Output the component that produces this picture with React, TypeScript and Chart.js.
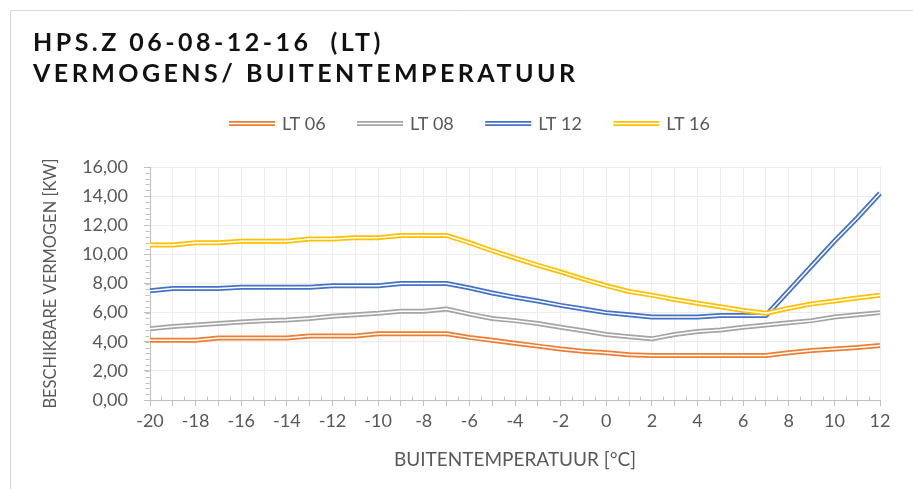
import React, { useEffect, useRef } from 'react';
import { Chart, registerables } from 'chart.js';

Chart.register(...registerables);

const temperatures = [-20, -19, -18, -17, -16, -15, -14, -13, -12, -11, -10, -9, -8, -7, -6, -5, -4, -3, -2, -1, 0, 1, 2, 3, 4, 5, 6, 7, 8, 9, 10, 11, 12];

const lt06 = [4.1, 4.1, 4.1, 4.25, 4.25, 4.25, 4.25, 4.4, 4.4, 4.4, 4.55, 4.55, 4.55, 4.55, 4.3, 4.1, 3.9, 3.7, 3.5, 3.35, 3.25, 3.1, 3.05, 3.05, 3.05, 3.05, 3.05, 3.05, 3.25, 3.4, 3.5, 3.6, 3.75];
const lt08 = [4.9, 5.05, 5.15, 5.25, 5.35, 5.45, 5.5, 5.6, 5.75, 5.85, 5.95, 6.1, 6.1, 6.25, 5.9, 5.6, 5.45, 5.25, 5.0, 4.75, 4.5, 4.35, 4.2, 4.5, 4.7, 4.8, 5.0, 5.15, 5.3, 5.45, 5.7, 5.85, 6.0];
const lt12 = [7.5, 7.65, 7.65, 7.65, 7.75, 7.75, 7.75, 7.75, 7.85, 7.85, 7.85, 8.0, 8.0, 8.0, 7.7, 7.35, 7.05, 6.8, 6.5, 6.25, 6.0, 5.85, 5.7, 5.7, 5.7, 5.8, 5.8, 5.8, 7.5, 9.2, 10.9, 12.5, 14.2];
const lt16 = [10.65, 10.65, 10.8, 10.8, 10.9, 10.9, 10.9, 11.05, 11.05, 11.15, 11.15, 11.3, 11.3, 11.3, 10.8, 10.25, 9.75, 9.25, 8.8, 8.3, 7.85, 7.45, 7.2, 6.9, 6.65, 6.4, 6.15, 5.95, 6.3, 6.6, 6.8, 7.0, 7.2];

const seriesNames = ['LT 06', 'LT 08', 'LT 12', 'LT 16'];
const seriesValues = [lt06, lt08, lt12, lt16];
const seriesColors = ['#ED7D31', '#A5A5A5', '#4472C4', '#FFC000'];

const titleLines = ['HPS.Z 06-08-12-16  (LT)', 'VERMOGENS/ BUITENTEMPERATUUR'];
const yAxisTitle = 'BESCHIKBARE VERMOGEN [KW]';
const xAxisTitle = 'BUITENTEMPERATUUR [°C]';

const Y_MIN = 0;
const Y_MAX = 16;
const Y_STEP = 2;
const Y_MINOR = 0.4;

const TEXT = '#595959';
const AXIS = '#bfbfbf';
const GRID = '#ececec';
const FONT = 'Lato';

const decorPlugin = {
  id: 'decor',
  afterDraw(chart: any) {
    const ctx = chart.ctx as CanvasRenderingContext2D;
    const W = chart.width;
    const H = chart.height;
    ctx.save();
    // frame
    ctx.strokeStyle = '#d9d9d9';
    ctx.lineWidth = 1;
    ctx.beginPath();
    ctx.moveTo(10.5, H);
    ctx.lineTo(10.5, 10.5);
    ctx.lineTo(W, 10.5);
    ctx.stroke();

    // title
    ctx.fillStyle = '#111111';
    ctx.font = `bold 25px ${FONT}`;
    ctx.textBaseline = 'middle';
    ctx.textAlign = 'left';
    (ctx as any).letterSpacing = '0px';
    const base = ctx.measureText(titleLines[1]).width;
    const n = titleLines[1].length;
    const ls = Math.max(0, (542 - base) / (n - 1));
    (ctx as any).letterSpacing = `${ls}px`;
    ctx.fillText(titleLines[0], 33, 43);
    ctx.fillText(titleLines[1], 33, 74);
    (ctx as any).letterSpacing = '0px';

    // legend
    ctx.font = `18px ${FONT}`;
    const lineLen = 46;
    const textGap = 7;
    const widths = seriesNames.map((s) => lineLen + textGap + ctx.measureText(s).width);
    const total = 481;
    const gap = (total - widths.reduce((a, b) => a + b, 0)) / (seriesNames.length - 1);
    let x = 229;
    const ly = 123;
    seriesNames.forEach((name, i) => {
      ctx.lineCap = 'butt';
      ctx.strokeStyle = seriesColors[i];
      ctx.lineWidth = 5;
      ctx.beginPath();
      ctx.moveTo(x, ly + 0.5);
      ctx.lineTo(x + lineLen, ly + 0.5);
      ctx.stroke();
      ctx.strokeStyle = '#ffffff';
      ctx.lineWidth = 1.5;
      ctx.beginPath();
      ctx.moveTo(x, ly + 0.5);
      ctx.lineTo(x + lineLen, ly + 0.5);
      ctx.stroke();
      ctx.fillStyle = TEXT;
      ctx.fillText(name, x + lineLen + textGap, ly + 1);
      x += widths[i] + gap;
    });

    // minor ticks
    const ys = chart.scales.y;
    const xs = chart.scales.x;
    ctx.strokeStyle = AXIS;
    ctx.lineWidth = 1;
    ctx.beginPath();
    const ax = Math.round(ys.right) - 0.5;
    for (let v = Y_MIN; v <= Y_MAX + 1e-6; v += Y_MINOR) {
      const py = Math.round(ys.getPixelForValue(v)) + 0.5;
      ctx.moveTo(ax - 4, py);
      ctx.lineTo(ax, py);
    }
    const ay = Math.round(xs.top) + 0.5;
    for (let i = 0; i < temperatures.length - 1; i++) {
      const px = Math.round((xs.getPixelForValue(i) + xs.getPixelForValue(i + 1)) / 2) + 0.5;
      ctx.moveTo(px, ay - 4);
      ctx.lineTo(px, ay);
    }
    ctx.stroke();
    ctx.restore();
  },
};

export default function App() {
  const ref = useRef<HTMLCanvasElement | null>(null);
  useEffect(() => {
    if (!ref.current) return;
    const datasets: any[] = [];
    for (let i = seriesNames.length - 1; i >= 0; i--) {
      datasets.push({
        label: seriesNames[i] + ' inner',
        data: seriesValues[i],
        borderColor: '#ffffff',
        borderWidth: 1.5,
        pointRadius: 0,
        fill: false,
        tension: 0,
      });
      datasets.push({
        label: seriesNames[i],
        data: seriesValues[i],
        borderColor: seriesColors[i],
        borderWidth: 5,
        pointRadius: 0,
        fill: false,
        tension: 0,
      });
    }
    const chart = new Chart(ref.current, {
      type: 'line',
      data: { labels: temperatures.map(String), datasets },
      options: {
        animation: false,
        responsive: false,
        maintainAspectRatio: false,
        layout: { padding: { top: 167, right: 33, left: 0, bottom: 0 } },
        plugins: {
          legend: { display: false },
          title: { display: false },
          tooltip: { enabled: false },
        },
        elements: { point: { radius: 0 }, line: { borderJoinStyle: 'round' } },
        scales: {
          x: {
            type: 'category',
            offset: false,
            grid: { color: GRID, tickColor: AXIS, tickLength: 6, lineWidth: 1 },
            border: { color: AXIS, width: 1 },
            ticks: {
              autoSkip: false,
              maxRotation: 0,
              minRotation: 0,
              padding: 4,
              color: TEXT,
              font: { family: FONT, size: 18 },
              callback: (_v: any, i: number) => (temperatures[i] % 2 === 0 ? String(temperatures[i]) : ''),
            },
            title: {
              display: true,
              text: xAxisTitle,
              color: TEXT,
              font: { family: FONT, size: 19 },
              padding: { top: 0, bottom: 18 },
            },
            afterFit: (s: any) => {
              s.height = 89;
            },
          },
          y: {
            min: Y_MIN,
            max: Y_MAX,
            grid: { color: GRID, tickColor: AXIS, tickLength: 6, lineWidth: 1 },
            border: { color: AXIS, width: 1 },
            ticks: {
              stepSize: Y_STEP,
              padding: 16,
              color: TEXT,
              font: { family: FONT, size: 18 },
              callback: (v: any) => Number(v).toFixed(2).replace('.', ','),
            },
            title: {
              display: true,
              text: yAxisTitle,
              color: TEXT,
              font: { family: FONT, size: 16.5 },
              padding: { top: 41, bottom: 0 },
            },
            afterFit: (s: any) => {
              s.width = 150;
            },
          },
        },
      },
      plugins: [decorPlugin],
    });
    return () => chart.destroy();
  }, []);
  return (
    <div style={{ position: 'fixed', left: 0, top: 0, width: 913, height: 489, background: '#ffffff' }}>
      <canvas ref={ref} width={913} height={489} style={{ display: 'block', width: 913, height: 489 }} />
    </div>
  );
}
